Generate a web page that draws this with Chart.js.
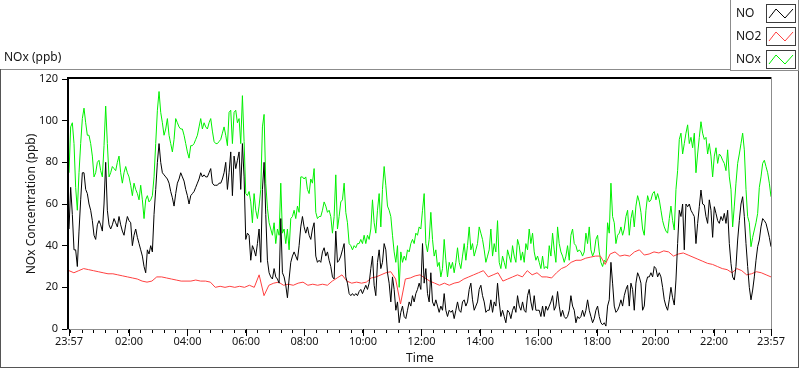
<!DOCTYPE html>
<html>
<head>
<meta charset="utf-8">
<title>NOx (ppb)</title>
<script src="https://cdn.jsdelivr.net/npm/chart.js@4.4.1/dist/chart.umd.min.js"></script>
<style>
    html, body { margin: 0; padding: 0; background: #fff; }
    #wrap { position: relative; width: 800px; height: 369px; }
</style>
</head>
<body>
<div id="wrap"><canvas id="chart"></canvas></div>
<script>
// NO and NOx were read about every 3.4 minutes, NO2 every 10 minutes, starting at 23:57
const NO_STEP_MIN = 1440 / 421;
const NO2_STEP_MIN = 10;

const noValues = [
    48, 68, 55, 38, 38, 30, 47, 62, 75, 75, 67, 65, 60, 57, 52, 45, 43, 50, 52, 50,
    47, 60, 80, 57, 50, 48, 50, 53, 51, 49, 54, 50, 47, 45, 50, 54, 52, 51, 40, 45,
    48, 44, 41, 38, 35, 30, 27, 38, 36, 40, 37, 55, 67, 80, 89, 80, 75, 74, 73, 72,
    70, 66, 63, 59, 65, 70, 72, 75, 73, 71,
    67, 64, 60, 64, 65, 66, 68, 70, 72, 75, 73, 74, 73, 73, 75, 77, 70, 69, 69, 69,
    70, 70, 72, 75, 80, 67, 75, 85, 64, 83, 77, 81, 85, 67, 89, 73, 43, 46, 45, 33,
    40, 38, 35, 41, 48, 32, 67, 80, 55, 33, 27, 25, 24, 29, 25, 24, 22, 53, 27, 25,
    21, 15, 24, 32, 35, 37, 35, 33, 40, 49, 54,
    49, 46, 49, 45, 43, 48, 51, 35, 32, 33, 32, 37, 39, 35, 37, 33, 30, 25, 24, 47,
    32, 33, 35, 38, 41, 25, 22, 17, 16, 17, 16, 17, 16, 18, 19, 17, 19, 21, 19, 22,
    29, 35, 21, 16, 32, 38, 29, 32, 41, 38, 27, 22, 13, 25, 19, 9, 13, 3, 8, 11,
    6, 5, 9, 13, 11, 16, 13, 17, 19, 22, 19,
    41, 22, 29, 17, 13, 27, 13, 11, 14, 11, 8, 11, 9, 17, 9, 6, 9, 8, 9, 5,
    9, 13, 9, 8, 13, 14, 11, 13, 19, 22, 14, 9, 11, 13, 19, 21, 16, 13, 8, 9,
    9, 14, 8, 13, 11, 22, 13, 6, 9, 6, 3, 9, 8, 5, 9, 11, 8, 16, 11, 9,
    13, 9, 8, 16, 19, 13, 9, 16, 9, 9,
    9, 6, 11, 6, 11, 9, 11, 13, 16, 9, 11, 18, 11, 6, 9, 6, 5, 6, 9, 16,
    11, 9, 3, 6, 5, 6, 9, 6, 9, 14, 9, 6, 3, 5, 9, 11, 6, 3, 2, 3,
    1.4, 11, 14, 32, 22, 11, 8, 9, 11, 14, 11, 16, 19, 21, 11, 22, 19, 9, 22, 27,
    25, 22, 9, 11, 22, 25, 25, 27, 25, 30, 29, 25,
    27, 25, 20, 14, 11, 9, 14, 20, 15, 11.5, 23.5, 41, 57, 54, 60, 38, 60, 58.7, 60, 57,
    55.5, 54, 41, 50.7, 58.7, 66.7, 60, 59.5, 54, 50.7, 62, 57, 44, 58.7, 55.5, 52, 50.7, 54, 52, 55.5,
    50.7, 57, 41, 31.5, 25, 23.5, 30, 42.7, 52, 60, 63.5, 54, 41, 30, 20, 14, 18.7, 25, 33, 39.5,
    42.7, 49, 53, 52, 50.7, 47.5, 44, 39.5
];

const noxValues = [
    75, 97, 99, 89, 68, 57, 75, 89, 101, 106, 99, 93, 93, 89, 83, 73, 75, 80, 81, 76,
    73, 88, 107, 89, 73, 75, 78, 77, 76, 80, 83, 75, 70, 75, 78, 75, 73, 69, 64, 70,
    67, 65, 62, 69, 62, 53, 62, 64, 61, 62, 64, 73, 89, 105, 114, 104, 99, 93, 96, 101,
    93, 89, 85, 91, 101, 99, 97, 96, 96, 93,
    89, 85, 82, 88, 88, 89, 91, 93, 97, 101, 96, 99, 97, 96, 99, 101, 95, 90, 89, 89,
    90, 91, 94, 97, 93, 88, 104, 105, 89, 104, 105, 99, 101, 89, 112, 90, 65, 64, 66, 61,
    51, 65, 57, 53, 59, 67, 97, 103, 70, 58, 51, 48, 45, 51, 41, 48, 45, 70, 46, 48,
    41, 48, 38, 53, 54, 57, 53, 59, 56, 73, 73,
    72, 73, 67, 65, 72, 70, 77, 56, 53, 54, 54, 57, 61, 59, 56, 57, 54, 46, 54, 74,
    48, 54, 61, 62, 70, 56, 51, 41, 40, 38, 40, 39, 41, 41, 43, 41, 45, 41, 45, 43,
    48, 62, 51, 46, 57, 65, 49, 67, 78, 69, 59, 57, 54, 45, 37, 32, 40, 20, 37, 32,
    35, 33, 38, 37, 41, 43, 41, 46, 45, 49, 48,
    57, 65, 41, 37, 43, 56, 43, 35, 38, 30, 32, 25, 29, 43, 33, 25, 32, 29, 32, 27,
    32, 39, 32, 29, 35, 41, 33, 40, 49, 38, 41, 35, 38, 41, 49, 46, 43, 38, 32, 35,
    38, 48, 35, 41, 37, 52, 32, 29, 35, 32, 29, 38, 35, 32, 40, 35, 32, 43, 40, 33,
    37, 32, 41, 38, 48, 41, 46, 37, 33, 35,
    32, 29, 35, 29, 30, 29, 40, 35, 46, 38, 32, 49, 41, 37, 35, 32, 35, 40, 33, 45,
    48, 41, 40, 37, 38, 37, 35, 37, 46, 41, 49, 38, 35, 37, 43, 45, 37, 32, 30, 33,
    32, 51, 46, 70, 54, 51, 41, 45, 46, 49, 45, 48, 54, 57, 45, 53, 57, 49, 59, 64,
    61, 56, 48, 45, 57, 64, 61, 62, 65, 66, 62, 65,
    62, 57, 52, 49, 47, 46, 53, 59, 52, 47.5, 67, 76, 91, 94, 84, 89, 94, 98, 89, 92,
    87, 94, 75, 84, 92, 99.5, 94, 91, 92, 84, 89, 83, 73, 83, 87, 79.5, 84, 83, 81, 79.5,
    76, 86, 73, 67, 49, 59, 70, 79.5, 84, 89, 94, 86, 67, 54, 51, 39.5, 44, 47.5, 51, 55.5,
    68, 73, 79.5, 81, 78, 75, 70, 63.5
];

const no2Values = [
    28, 27, 28, 29, 28.5, 28, 27.5, 27, 26.5, 26.5, 26, 25.5,
    25, 24.5, 24, 23, 22.5, 23, 25, 25, 24.5, 24, 23.5, 23,
    23, 23, 23.5, 23, 23, 22.5, 20, 20.5, 20, 20.5, 20, 20.5,
    20, 21, 20, 26, 16, 21, 22, 22.5, 21, 21.5, 21, 22,
    22.5, 21, 21.5, 21, 21.5, 21, 23, 24.5, 26, 23, 22, 22.5,
    22, 22.5, 24.5, 25, 26, 27, 27.5, 24, 12, 24, 24.5, 25.5,
    26, 24.5, 23, 22, 21, 22, 21, 22, 22.5, 24, 25, 26,
    27, 28, 25, 26, 27, 23, 24, 25, 26, 25, 28, 26,
    27, 25, 25, 24.5, 27, 29, 30, 32, 33, 33, 34, 34.5,
    35, 35, 31, 36, 37, 35, 35.5, 35, 37, 38, 35.5, 36,
    37, 36.5, 37.5, 37, 35, 36, 36.5, 35.5, 34.5, 33.5, 32.5, 31.5,
    31, 30, 29, 28.5, 27, 29, 28, 26, 26.5, 27.5, 27, 26,
    25
];

const seriesNames = ['NO', 'NO2', 'NOx'];
const seriesColors = ['#000000', '#ff4040', '#00f000'];

const yTicks = [0, 20, 40, 60, 80, 100, 120];
// minutes after 23:57 for the labelled ticks
const xMajorMinutes = [0, 123, 243, 363, 483, 603, 723, 843, 963, 1083, 1203, 1323, 1440];
const xMajorLabels = ['23:57', '02:00', '04:00', '06:00', '08:00', '10:00', '12:00',
    '14:00', '16:00', '18:00', '20:00', '22:00', '23:57'];

// small ticks every 24 min, lined up on the hour labels
const xTickValues = [0];
for (let m = 3; m < 1440; m += 24) xTickValues.push(m);
xTickValues.push(1440);

const tickFont = { family: "'Noto Sans', sans-serif", size: 11 };
const titleFont = { family: "'Noto Sans', sans-serif", size: 12 };
const textColor = '#141414';

const toPoints = (values, step) => values.map((v, i) => ({ x: Math.min(i * step, 1440), y: v }));

const panelFrame = {
    id: 'panelFrame',
    afterDraw: (chart) => {
        const { ctx, chartArea: a, scales } = chart;
        const w = a.right - a.left;
        const h = a.bottom - a.top;

        ctx.save();

        // plot frame: dark top/left, grey bottom/right
        ctx.fillStyle = '#000';
        ctx.fillRect(a.left - 2, a.top - 2, w + 2, 2);
        ctx.fillRect(a.left - 2, a.top - 2, 2, h + 2);
        ctx.fillStyle = '#8c8c8c';
        ctx.fillRect(a.right, a.top - 2, 1, h + 3);
        ctx.fillRect(a.left - 2, a.bottom, w + 3, 1);

        // longer marks on the labelled times
        ctx.fillStyle = '#000';
        xMajorMinutes.forEach(m => {
            const px = Math.round(scales.x.getPixelForValue(m));
            ctx.fillRect(px, a.bottom, 1, 7);
        });

        // outer panel
        ctx.fillStyle = '#8c8c8c';
        ctx.fillRect(0, 69, 730, 1);
        ctx.fillStyle = '#555';
        ctx.fillRect(0, 69, 1, 299);
        ctx.fillRect(0, 367, 799, 1);
        ctx.fillRect(798, 71, 1, 297);

        // graph caption
        ctx.fillStyle = textColor;
        ctx.font = "12px 'Noto Sans', sans-serif";
        ctx.textBaseline = 'middle';
        ctx.textAlign = 'left';
        ctx.fillText('NOx (ppb)', 4, 58);

        // plot legend
        ctx.fillStyle = '#fff';
        ctx.fillRect(730, 0, 69, 71);
        ctx.strokeStyle = '#8c8c8c';
        ctx.lineWidth = 1;
        ctx.strokeRect(730.5, -0.5, 68, 71);

        chart.data.datasets.forEach((ds, i) => {
            const top = 4 + i * 23;
            ctx.fillStyle = textColor;
            ctx.fillText(ds.label, 736, top + 9.5);

            const bx = 766, by = top;
            ctx.strokeStyle = '#3c3c3c';
            ctx.strokeRect(bx + 0.5, by + 0.5, 29, 18);
            ctx.strokeStyle = ds.borderColor;
            ctx.beginPath();
            ctx.moveTo(bx + 3, by + 14);
            ctx.lineTo(bx + 10, by + 5);
            ctx.lineTo(bx + 19, by + 14);
            ctx.lineTo(bx + 27, by + 5);
            ctx.stroke();
        });

        ctx.restore();
    }
};

const seriesData = [
    toPoints(noValues, NO_STEP_MIN),
    toPoints(no2Values, NO2_STEP_MIN),
    toPoints(noxValues, NO_STEP_MIN)
];

const config = {
    type: 'line',
    data: {
        datasets: seriesData.map((points, i) => ({
            label: seriesNames[i],
            data: points,
            borderColor: seriesColors[i],
            backgroundColor: seriesColors[i],
            borderWidth: 1,
            pointRadius: 0,
            tension: 0,
            fill: false
        }))
    },
    options: {
        responsive: true,
        maintainAspectRatio: false,
        animation: false,
        layout: { padding: { left: 20, top: 79, right: 29, bottom: 0 } },
        plugins: {
            legend: { display: false },
            tooltip: { enabled: false }
        },
        scales: {
            x: {
                type: 'linear',
                min: 0,
                max: 1440,
                afterBuildTicks: (axis) => { axis.ticks = xTickValues.map(v => ({ value: v })); },
                afterFit: (axis) => { axis.height = 40; },
                ticks: {
                    autoSkip: false,
                    maxRotation: 0,
                    padding: 2,
                    color: textColor,
                    font: tickFont,
                    callback: (v) => {
                        const i = xMajorMinutes.indexOf(v);
                        return i >= 0 ? xMajorLabels[i] : '';
                    }
                },
                grid: { drawOnChartArea: false, tickLength: 4, color: '#000' },
                border: { display: false },
                title: {
                    display: true,
                    text: 'Time',
                    color: textColor,
                    font: titleFont,
                    padding: { top: 0, bottom: 3 }
                }
            },
            y: {
                min: 0,
                max: 120,
                afterBuildTicks: (axis) => { axis.ticks = yTicks.map(v => ({ value: v })); },
                afterFit: (axis) => { axis.width = 49; },
                ticks: { padding: 4, color: textColor, font: tickFont },
                grid: { drawOnChartArea: false, tickLength: 7, color: '#000' },
                border: { display: false },
                title: {
                    display: true,
                    text: 'NOx Concentration (ppb)',
                    color: textColor,
                    font: titleFont,
                    padding: { top: 4, bottom: 0 }
                }
            }
        }
    },
    plugins: [panelFrame]
};

new Chart(document.getElementById('chart'), config);
</script>
</body>
</html>
